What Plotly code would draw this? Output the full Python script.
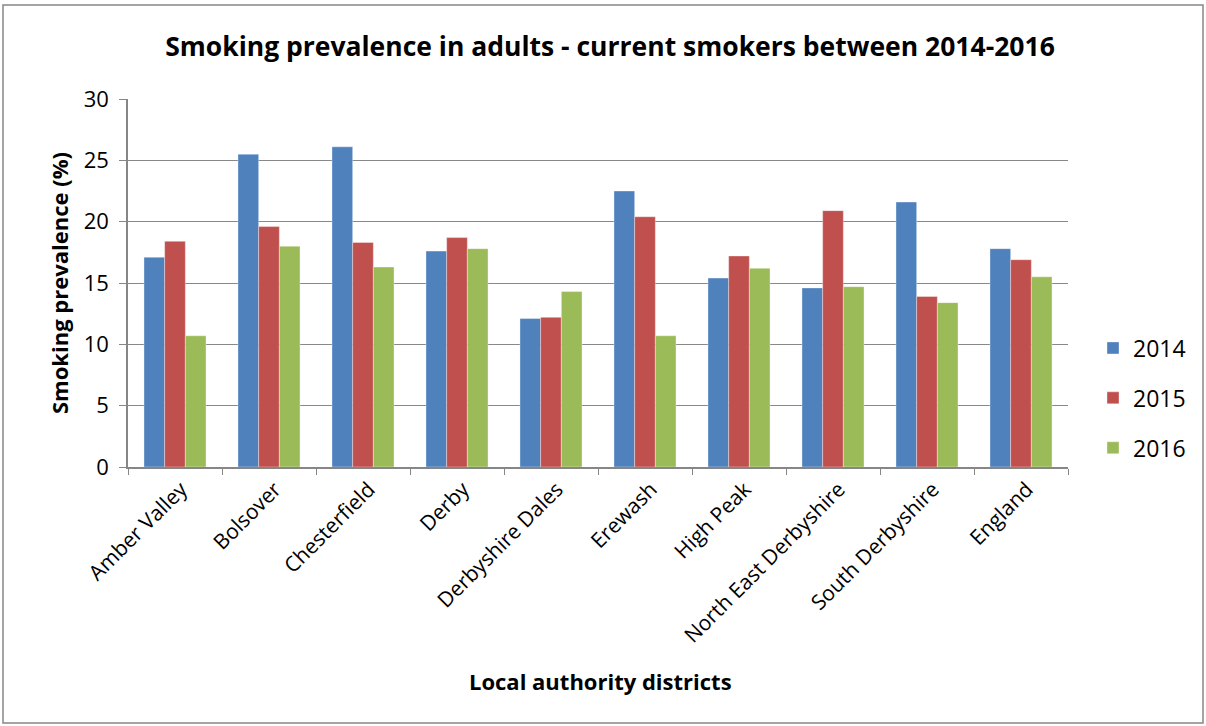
import plotly.graph_objects as go

categories = ["Amber Valley", "Bolsover", "Chesterfield", "Derby", "Derbyshire Dales",
              "Erewash", "High Peak", "North East Derbyshire", "South Derbyshire", "England"]
series_names = ["2014", "2015", "2016"]
values_2014 = [17.1, 25.5, 26.1, 17.6, 12.1, 22.5, 15.4, 14.6, 21.6, 17.8]
values_2015 = [18.4, 19.6, 18.3, 18.7, 12.2, 20.4, 17.2, 20.9, 13.9, 16.9]
values_2016 = [10.7, 18.0, 16.3, 17.8, 14.3, 10.7, 16.2, 14.7, 13.4, 15.5]
y_ticks = [0, 5, 10, 15, 20, 25, 30]

colors = ["#4F81BD", "#C0504D", "#9BBB59"]
font = "'Open Sans', Lato, sans-serif"

W, H = 1206, 726
L, R, T, B = 128, 1068, 99, 467
PW, PH = R - L, B - T

def px_x(px):
    return (px - L) / PW

def px_y(py):
    return (B - py) / PH

fig = go.Figure()
for name, vals, col in zip(series_names, [values_2014, values_2015, values_2016], colors):
    fig.add_trace(go.Bar(x=categories, y=vals, name=name, legendgroup=name,
                         marker=dict(color=col, line=dict(width=0.6, color="rgba(255,255,255,0.6)"))))

fig.update_layout(
    width=W, height=H,
    margin=dict(l=L, r=W - R, t=T, b=H - B, autoexpand=False),
    plot_bgcolor="white", paper_bgcolor="white",
    barmode="group", bargap=0.34, bargroupgap=0,
    font=dict(family=font, color="black"),
    title=dict(text="<b>Smoking prevalence in adults - current smokers between 2014-2016</b>",
               x=610 / W, xanchor="center", y=1 - 47 / H, yanchor="middle",
               font=dict(size=26.5, family=font)),
    xaxis=dict(showline=True, linecolor="#868686", linewidth=1.5,
               ticks="outside", tickson="boundaries", ticklen=6, tickcolor="#868686",
               tickangle=-45, tickfont=dict(size=21), ticklabelshift=6),
    yaxis=dict(range=[0, 30], tickvals=y_ticks, showgrid=True, gridcolor="#888888", gridwidth=1.3,
               showline=True, linecolor="#868686", linewidth=1.5,
               ticks="outside", ticklen=7, tickcolor="#868686", tickfont=dict(size=22),
               ticklabelstandoff=6),
    legend=dict(x=px_x(1093), y=px_y(398), xanchor="left", yanchor="middle",
                font=dict(size=23), tracegroupgap=17, itemwidth=30),
)

# axis titles as annotations at the reference positions
fig.add_annotation(text="<b>Local authority districts</b>", xref="paper", yref="paper",
                   x=px_x(600), y=px_y(681), xanchor="center", yanchor="middle",
                   showarrow=False, font=dict(size=22, family=font))
fig.add_annotation(text="<b>Smoking prevalence (%)</b>", xref="paper", yref="paper",
                   x=px_x(59), y=px_y(283), xanchor="center", yanchor="middle", textangle=-90,
                   showarrow=False, font=dict(size=22, family=font))

# chart border
fig.add_shape(type="rect", xref="paper", yref="paper",
              x0=px_x(3), x1=px_x(1203), y0=px_y(723), y1=px_y(5),
              line=dict(color="#868686", width=1.5), fillcolor="rgba(0,0,0,0)", layer="below")

fig.write_html("out.html", config={"displayModeBar": False},
               post_script="document.body.style.margin='0';")
